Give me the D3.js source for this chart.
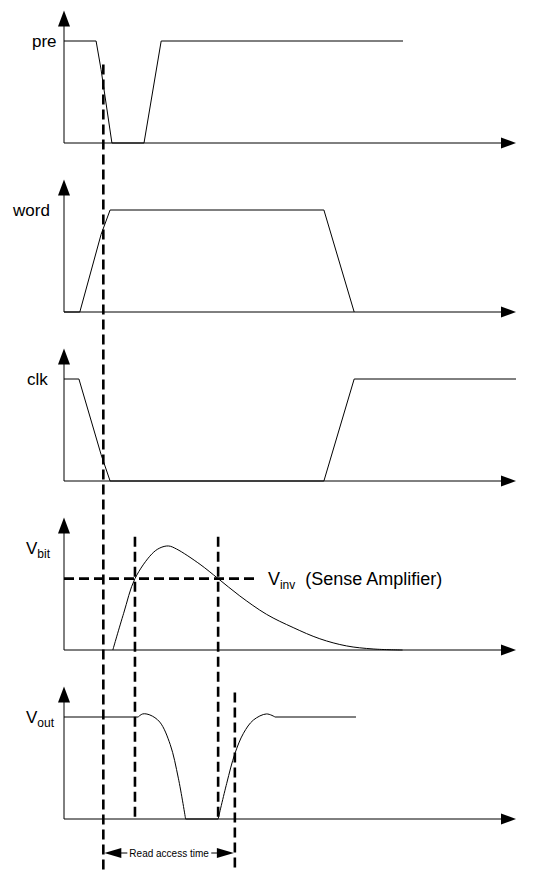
<!DOCTYPE html>
<html>
<head>
<meta charset="utf-8">
<script src="https://cdn.jsdelivr.net/npm/d3@7"></script>
<style>
  html, body { margin: 0; padding: 0; background: #fff; }
  svg { display: block; }
  text { font-family: "Liberation Sans", Arial, sans-serif; fill: #000; }
</style>
</head>
<body>
<svg id="chart" width="546" height="871"></svg>
<script>
// Time runs 0..100 (arbitrary units); levels are normalised (0 = low, 1 = high).
const signalNames = ["pre", "word", "clk", "V|bit", "V|out"];

const preWave  = [[0, 1], [7.1, 1], [8.2, 0.72], [10.6, 0], [17.7, 0], [21.5, 1], [75, 1]];
const wordWave = [[0, 0], [3.5, 0], [8.2, 0.76], [10.2, 1], [57.5, 1], [64.2, 0]];
const clkWave  = [[0, 1], [3.3, 1], [8.2, 0.26], [10.2, 0], [57.5, 0], [64.2, 1], [100, 1]];

// Bit-line voltage: rises, peaks, then decays back to zero
const vbitWave = [[10.8, 0], [13.2, 0.36], [15.7, 0.70], [19.4, 0.94], [21.2, 1.0], [23.1, 1.02],
                  [24.9, 0.99], [30.1, 0.84], [34.1, 0.70], [38.9, 0.53], [44.8, 0.35],
                  [50.7, 0.22], [56.6, 0.11], [62.5, 0.04], [68.4, 0.01], [74.9, 0]];

// Sense-amplifier output: drops after the first crossing, recovers after the second
const voutHold  = [[0, 1], [16.4, 1]];
const voutFall  = [[16.4, 1], [17.4, 1.03], [19.0, 1.02], [21.2, 0.95], [23.5, 0.73], [25.3, 0.40], [26.9, 0]];
const voutLow   = [[26.9, 0], [34.1, 0]];
const voutRise  = [[34.1, 0], [36.0, 0.35], [37.8, 0.64], [39.7, 0.84], [41.9, 0.97], [44.8, 1.03], [46.7, 1.0]];
const voutFlat  = [[46.7, 1], [64.6, 1]];

const vinvLevel = 0.70;          // switching threshold of the sense amplifier
const vinvEnd = 42.9;            // extent of the threshold line
const readStart = 8.7;           // word line / clock crossing
const senseOn = 15.7;            // bit line crosses V_inv rising
const senseOff = 34.1;           // bit line crosses V_inv falling
const readEnd = 37.8;            // output valid

const svg = d3.select("#chart");

const x = d3.scaleLinear().domain([0, 100]).range([64, 516]);
const baseline = i => 143 + i * 169;
const yScales = signalNames.map((_, i) =>
  d3.scaleLinear().domain([0, 1]).range([baseline(i), baseline(i) - 102]));

const lineGen = y => d3.line().x(d => x(d[0])).y(d => y(d[1]));
const curveGen = y => d3.line().x(d => x(d[0])).y(d => y(d[1])).curve(d3.curveCatmullRom.alpha(0.5));

// Axes with arrowheads
signalNames.forEach((name, i) => {
  const y = yScales[i];
  const g = svg.append("g");
  const x0 = x(0), yb = y(0), yt = y(1.3);
  g.append("line").attr("x1", x0).attr("y1", yb).attr("x2", x0).attr("y2", yt + 10)
    .attr("stroke", "#000").attr("stroke-width", 1);
  g.append("path").attr("d", `M${x0},${yt} L${x0 - 6},${yt + 16} L${x0 + 6},${yt + 16} Z`).attr("fill", "#000");
  g.append("line").attr("x1", x0).attr("y1", yb).attr("x2", x(100) - 10).attr("y2", yb)
    .attr("stroke", "#000").attr("stroke-width", 1);
  g.append("path").attr("d", `M${x(100)},${yb} L${x(100) - 15},${yb - 5.5} L${x(100) - 15},${yb + 5.5} Z`).attr("fill", "#000");
});

// Signal labels
const labelX = [32, 13, 27, 26, 26];
signalNames.forEach((name, i) => {
  const [main, sub] = name.split("|");
  const t = svg.append("text").attr("x", labelX[i]).attr("y", yScales[i](1) + 6).attr("font-size", 17);
  t.append("tspan").text(main);
  if (sub) t.append("tspan").attr("font-size", 12).attr("dy", 4).text(sub);
});

// Waveforms
const drawPath = (data, y, gen) => svg.append("path").datum(data).attr("d", gen(y)(data))
  .attr("fill", "none").attr("stroke", "#000").attr("stroke-width", 1);

drawPath(preWave, yScales[0], lineGen);
drawPath(wordWave, yScales[1], lineGen);
drawPath(clkWave, yScales[2], lineGen);
drawPath(vbitWave, yScales[3], curveGen);
drawPath(voutHold, yScales[4], lineGen);
drawPath(voutFall, yScales[4], curveGen);
drawPath(voutLow, yScales[4], lineGen);
drawPath(voutRise, yScales[4], curveGen);
drawPath(voutFlat, yScales[4], lineGen);

// Dashed timing markers
const dash = sel => sel.attr("stroke", "#000").attr("stroke-width", 2.6).attr("stroke-dasharray", "10,5").attr("fill", "none");
const vMarker = (t, y1, y2) => svg.append("line").attr("x1", x(t)).attr("x2", x(t)).attr("y1", y1).attr("y2", y2).call(dash);

vMarker(readStart, yScales[0](0.77), 871);
vMarker(senseOn, yScales[3](1.11), 821);
vMarker(senseOff, yScales[3](1.11), 821);
vMarker(readEnd, yScales[4](1.24), 871);

svg.append("line").attr("x1", x(0)).attr("x2", x(vinvEnd))
  .attr("y1", yScales[3](vinvLevel)).attr("y2", yScales[3](vinvLevel)).call(dash);

const vinv = svg.append("text").attr("x", x(vinvEnd) + 10).attr("y", yScales[3](vinvLevel) + 6).attr("font-size", 18);
vinv.append("tspan").text("V");
vinv.append("tspan").attr("font-size", 12).attr("dy", 4).text("inv");
vinv.append("tspan").attr("dy", -4).text("\u00a0 (Sense Amplifier)");

// Read access time dimension
const ya = 853;
const xa1 = x(readStart) + 1, xa2 = x(readEnd) - 1;
const label = svg.append("text").attr("x", (xa1 + xa2) / 2).attr("y", ya + 3.5)
  .attr("font-size", 10).attr("text-anchor", "middle").text("Read access time");
const bb = label.node().getBBox();
svg.append("line").attr("x1", xa1 + 16).attr("x2", bb.x - 2).attr("y1", ya).attr("y2", ya).attr("stroke", "#000");
svg.append("line").attr("x1", bb.x + bb.width + 2).attr("x2", xa2 - 16).attr("y1", ya).attr("y2", ya).attr("stroke", "#000");
svg.append("path").attr("d", `M${xa1},${ya} L${xa1 + 17},${ya - 5} L${xa1 + 17},${ya + 5} Z`).attr("fill", "#000");
svg.append("path").attr("d", `M${xa2},${ya} L${xa2 - 17},${ya - 5} L${xa2 - 17},${ya + 5} Z`).attr("fill", "#000");
</script>
</body>
</html>
